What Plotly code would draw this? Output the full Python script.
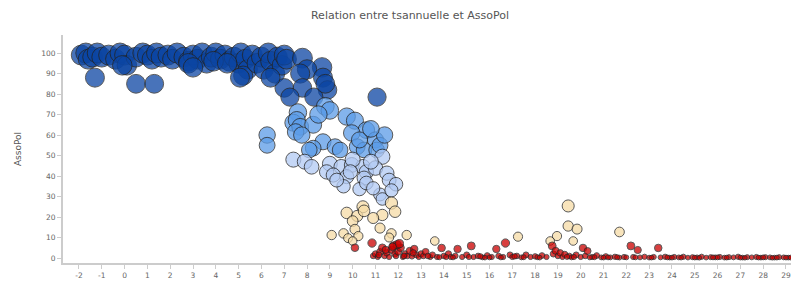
import plotly.graph_objects as go
import numpy as np

# AssoPol >= 75
x_dark = [-1.9,-1.7,-1.6,-1.4,-1.2,-1.0,-0.7,-0.4,-0.2,0.0,0.1,0.5,0.8,1.0,1.2,1.4,1.6,1.9,2.1,2.3,
          2.6,2.8,3.0,3.2,3.4,3.6,3.8,4.0,4.2,4.4,4.6,4.8,5.0,5.1,5.3,5.4,5.2,5.6,5.8,6.0,
          6.1,6.3,6.4,6.6,6.7,6.9,7.0,7.1,-1.3,0.5,1.3,2.8,3.9,4.5,3.0,-0.1,
          7.8,8.66,8.0,7.7,8.7,7.0,7.8,8.9,7.25,8.3,8.8,11.07,6.4,5.06]
y_dark = [99,100,97,98,100,98,99,97,100,99,94,98,100,99,97,100,98,99,97,100,
          98,96,99,97,100,95,98,100,97,99,96,98,95,100,97,92,89,99,95,98,
          92,100,96,90,98,94,99,97,88,85,85,95,96,95,93,94,
          97.5,93,92,90,88,83,83,82,78.5,78.5,85,78.5,88,88]

# 50 <= AssoPol < 75
x_light = [6.25,6.25,8.8,7.6,7.4,7.55,7.7,8.27,7.5,7.77,9.74,10.1,10.6,9.96,11.0,8.7,9.23,8.27,8.1,
           10.2,10.5,11.05,9.45,10.3,11.2,11.4,10.8,9.0,8.5]
y_light = [60,55,74,71,66,67.3,64,65,61.5,60,69,67,62.4,61,57.6,56.7,54.3,53.6,52.7,
           54.3,52.7,52.7,52.7,57.6,55,60,63,72,70]

# 28 <= AssoPol < 50
x_pale = [7.4,7.9,8.2,9.0,9.5,9.96,10.45,11.3,8.86,9.15,9.74,10.6,11.0,11.5,10.5,9.6,10.3,10.6,
          11.2,11.3,11.6,11.9,10.0,10.8,9.3,10.9,11.7,9.9]
y_pale = [48,47,44.5,46,44.5,45.4,44.5,49.4,42,40.5,39.7,42,43.9,41.4,39,35,33.6,36.6,
          31,28.8,38,36,48,47,38,34,33,42]

# 8 <= AssoPol < 28
x_cream = [11.7,11.86,11.3,9.74,10.45,10.2,10.0,10.1,10.9,11.2,11.7,12.37,9.08,9.6,9.8,10.25,10.0,
           13.6,17.25,19.45,19.45,19.84,19.67,18.96,18.66,21.7,10.5,11.6]
y_cream = [26.8,22.6,21,22,25,20.5,18,14,19.5,14.6,12,11.2,11.2,12,9.7,10.7,8.3,
           8.3,10.4,25.4,15.6,14.1,8.3,10.7,8.3,12.7,23,10]

# AssoPol < 8
x_red = [10.1,10.85,10.9,11.0,11.1,11.2,11.3,11.4,11.5,11.6,11.7,11.8,11.85,11.9,12.0,12.1,12.2,12.3,
         12.4,12.5,12.6,12.7,12.8,12.9,13.0,13.1,13.2,13.4,13.5,13.7,13.9,14.0,14.2,14.3,14.5,14.6,
         14.8,15.0,15.2,15.3,15.5,15.7,15.9,16.1,16.3,16.4,16.6,16.7,16.9,17.0,17.2,17.4,17.6,17.8,
         18.0,18.3,18.5,18.75,18.8,18.9,19.0,19.1,19.2,19.3,19.5,19.6,19.8,20.0,20.1,20.2,20.3,20.5,
         20.7,20.9,21.1,21.3,21.5,21.7,21.9,22.2,22.3,22.5,22.6,22.8,23.0,23.2,23.4,23.5,23.7,23.9,
         24.1,24.3,24.5,24.7,24.9,25.1,25.3,25.5,25.7,25.9,26.1,26.3,26.5,26.7,26.9,27.1,27.3,27.5,
         27.7,27.9,28.1,28.3,28.5,28.7,28.9,29.1,29.3,
         11.95,12.05,11.75,12.25,11.15,11.45,12.65,13.3,14.1,15.6,16.0,17.1,18.1,19.4,20.6,21.2,
         22.0,24.0,25.0,26.0,27.0,28.0,28.6,29.0,
         13.8,14.4,15.1,15.8,16.5,17.5,18.2,19.7,20.4,21.0,21.6,22.4,23.1,23.8,24.4,25.2,25.8,
         26.4,27.2,27.8,28.4,29.2]
y_red = [5,7.3,1,2,0.5,3,5,1,2.5,0.5,4,6,2,1,3,5,0.5,2,
         1,3.5,0.8,4.4,1.5,0.5,2,1,3,0.5,1.5,0.5,4.9,1,2,0.5,1,4.4,
         0.5,1.5,5.9,0.5,1,0.3,1.2,0.5,4.4,1,0.5,7.3,1.5,0.5,1,0.3,1.5,0.5,
         0.8,1.2,0.5,5.9,2,3.5,1,2.5,0.5,1.8,1,0.3,1.5,0.5,4.9,1,3.4,0.5,
         1.2,0.3,0.8,0.3,0.6,0.2,0.5,5.9,0.5,3.9,0.3,0.6,0.2,0.5,4.9,0.3,0.6,0.2,
         0.5,0.3,0.6,0.2,0.4,0.3,0.6,0.2,0.4,0.3,0.5,0.2,0.4,0.3,0.6,0.2,0.4,0.3,
         0.5,0.2,0.4,0.3,0.2,0.4,0.3,0.2,0.3,
         6.5,7,5.5,1,1.5,4,2.5,1,0.5,0.8,0.3,0.8,0.4,0.6,0.4,0.3,
         0.3,0.2,0.2,0.3,0.2,0.3,0.2,0.2,
         0.4,0.3,0.5,0.2,0.3,0.4,0.2,0.5,0.3,0.2,0.4,0.3,0.2,0.3,0.2,0.1,0.3,
         0.2,0.1,0.2,0.1,0.2]

x_tick_vals = list(range(-2, 30))
x_tick_labels = [str(v) for v in x_tick_vals]
y_tick_vals = list(range(0, 101, 10))
y_tick_labels = [str(v) for v in y_tick_vals]

groups = [
    (x_dark, y_dark, "#0b45a3"),
    (x_light, y_light, "#5b9ce8"),
    (x_pale, y_pale, "#b2caf4"),
    (x_cream, y_cream, "#f6dca6"),
    (x_red, y_red, "#cc0000"),
]

fig = go.Figure()
for xs, ys, col in groups:
    ys_arr = np.array(ys, dtype=float)
    sizes = 4 + 16 * np.sqrt(np.clip(ys_arr, 0, None) / 100.0)
    fig.add_trace(go.Scatter(
        x=xs, y=ys, mode="markers",
        marker=dict(color=col, size=sizes, opacity=0.75,
                    line=dict(color="#222222", width=1)),
        showlegend=False, hoverinfo="x+y"))

fig.update_layout(
    width=791, height=282,
    margin=dict(l=63, r=0, t=35, b=19),
    paper_bgcolor="white", plot_bgcolor="white",
    title=dict(text="Relation entre tsannuelle et AssoPol", x=410/791, xanchor="center",
               y=1-15/282, yanchor="middle", yref="container",
               font=dict(family="DejaVu Sans", size=11, color="#555555")),
    font=dict(family="DejaVu Sans", size=8, color="#666666"),
)
fig.update_xaxes(range=[-2.7, 29.22], tickmode="array", tickvals=x_tick_vals, ticktext=x_tick_labels,
                 showgrid=False, zeroline=False, showline=True, linecolor="#cccccc", linewidth=2,
                 ticks="outside", ticklen=4, tickcolor="#cccccc", automargin=False,
                 tickfont=dict(size=7.5, color="#666666"))
fig.update_yaxes(range=[-2.44, 108.8], tickmode="array", tickvals=y_tick_vals, ticktext=y_tick_labels,
                 showgrid=False, zeroline=False, showline=True, linecolor="#cccccc", linewidth=2,
                 ticks="outside", ticklen=4, tickcolor="#cccccc", automargin=False,
                 tickfont=dict(size=7.5, color="#666666"),
                 title=dict(text="AssoPol", font=dict(size=9, color="#555555"), standoff=18))

fig.write_html("out.html", config={"displayModeBar": False},
               post_script="document.body.style.margin='0px';")
